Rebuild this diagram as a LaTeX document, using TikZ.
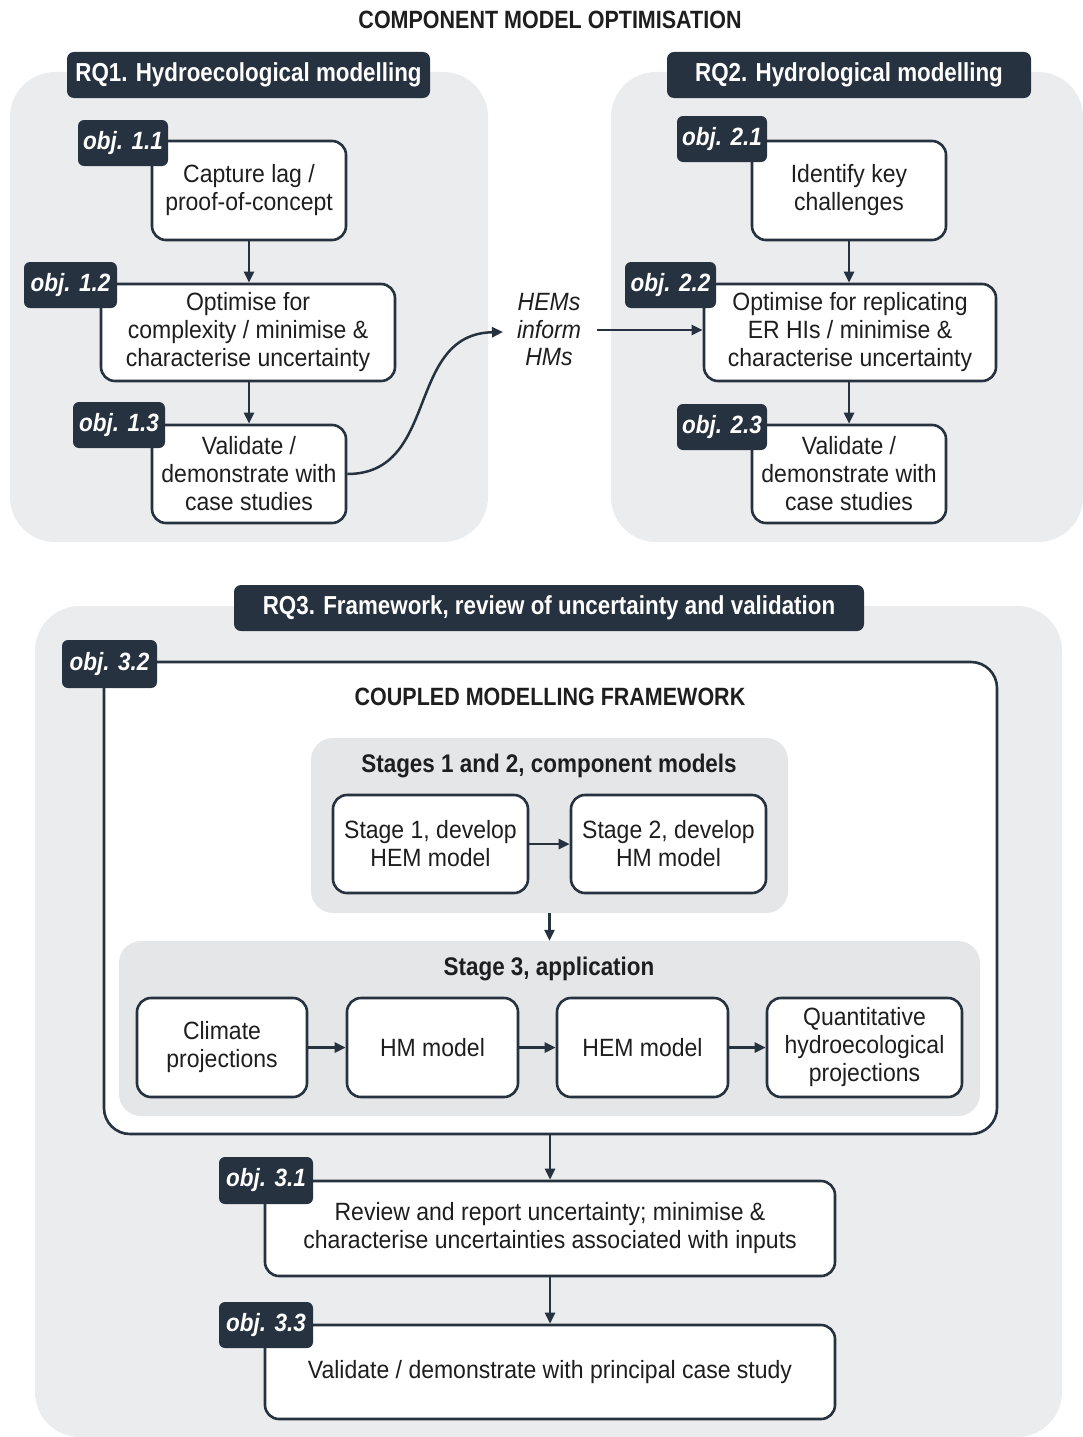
\documentclass[tikz,border=0pt]{standalone}
\usepackage{fontspec}
\setmainfont{Liberation Sans}
\newfontfamily\condfont[FakeStretch=0.86]{Liberation Sans}
\newfontfamily\labfont[FakeStretch=0.9]{Liberation Sans}
\newfontfamily\stagefont[FakeStretch=0.88]{Liberation Sans}
\newfontfamily\bodyfont[FakeStretch=0.92]{Liberation Sans}
\usetikzlibrary{arrows.meta}
\definecolor{navy}{HTML}{26323F}
\definecolor{panelgrey}{HTML}{EBECEE}
\definecolor{stagegrey}{HTML}{E5E6E8}
\definecolor{inktext}{HTML}{1E1E1E}
\tikzset{
  box/.style={draw=navy, line width=2.6pt, fill=white, rounded corners=14pt, align=center,
    text=inktext, font=\bodyfont\fontsize{25}{28}\selectfont, inner sep=0pt},
  objlab/.style={fill=navy, text=white, rounded corners=6pt, inner sep=0pt,
    font=\labfont\bfseries\itshape\fontsize{25}{28}\selectfont},
  header/.style={fill=navy, text=white, rounded corners=7pt, inner sep=0pt,
    font=\condfont\bfseries\fontsize{26}{28}\selectfont},
  grouptitle/.style={text=inktext, font=\condfont\bfseries\fontsize{25}{28}\selectfont, inner sep=0pt},
  stagetitle/.style={text=inktext, font=\stagefont\bfseries\fontsize{25.5}{28}\selectfont, inner sep=0pt},
  panel/.style={fill=panelgrey, rounded corners=45pt},
  stagegroup/.style={fill=stagegrey, rounded corners=22pt, inner sep=0pt},
  arr/.style={-{Triangle[length=11pt,width=10pt]}, line width=2.5pt, draw=navy}
}
\begin{document}
\begin{tikzpicture}[x=1pt,y=-1pt]
\useasboundingbox (0,0) rectangle (1083,1437);
\fill[white] (0,0) rectangle (1083,1437);

% title
\node[grouptitle] (title) at (550,20) {COMPONENT MODEL OPTIMISATION};

% panels
\fill[panel] (10,72) rectangle (488,542);
\fill[panel] (611,72) rectangle (1083,542);
\fill[panel] (35,606) rectangle (1062,1437);

% headers
\node[header, minimum width=363pt, minimum height=46pt] (rq1) at (248.5,75) {RQ1. Hydroecological modelling};
\node[header, minimum width=364pt, minimum height=46pt] (rq2) at (849,75) {RQ2. Hydrological modelling};
\node[header, minimum width=630pt, minimum height=46pt] (rq3) at (549,608) {RQ3. Framework, review of uncertainty and validation};

% RQ1 boxes
\node[box, minimum width=194pt, minimum height=99pt] (b11) at (249,190.5) {Capture lag /\\proof-of-concept};
\node[box, minimum width=294pt, minimum height=97pt] (b12) at (248,332.5) {Optimise for\\complexity / minimise \&\\characterise uncertainty};
\node[box, minimum width=194pt, minimum height=98pt] (b13) at (249,474) {Validate /\\demonstrate with\\case studies};

% RQ2 boxes
\node[box, minimum width=194pt, minimum height=99pt] (b21) at (849,190.5) {Identify key\\challenges};
\node[box, minimum width=292pt, minimum height=97pt] (b22) at (850,332.5) {Optimise for replicating\\ER HIs / minimise \&\\characterise uncertainty};
\node[box, minimum width=194pt, minimum height=98pt] (b23) at (849,474) {Validate /\\demonstrate with\\case studies};

% arrows RQ1/RQ2
\draw[arr] (b11.south) -- (b11.south |- b12.north);
\draw[arr] (b12.south -| b11.south) -- (b13.north -| b11.south);
\draw[arr] (b21.south) -- (b21.south |- b22.north);
\draw[arr] (b22.south -| b21.south) -- (b23.north -| b21.south);

% labels RQ1/RQ2
\node[objlab, minimum width=90pt, minimum height=46pt] (o11) at (123,143) {obj. 1.1};
\node[objlab, minimum width=93pt, minimum height=46pt] (o12) at (70.5,285) {obj. 1.2};
\node[objlab, minimum width=92pt, minimum height=46pt] (o13) at (119,425) {obj. 1.3};
\node[objlab, minimum width=90pt, minimum height=46pt] (o21) at (722,139) {obj. 2.1};
\node[objlab, minimum width=91pt, minimum height=46pt] (o22) at (670.5,285) {obj. 2.2};
\node[objlab, minimum width=90pt, minimum height=46pt] (o23) at (722,427) {obj. 2.3};

% HEMs inform HMs
\node[align=center, text=inktext, font=\bodyfont\itshape\fontsize{25}{27.5}\selectfont, inner sep=2pt] (hem) at (549,330) {HEMs\\inform\\HMs};
\coordinate (hemin) at (503,332);
\draw[arr] (b13.east) .. controls (440,474) and (405,334) .. (hemin);
\draw[arr] (597,330) -- (b22.west |- 0,330);

% framework
\node[box, rounded corners=26pt, minimum width=893pt, minimum height=472pt] (fw) at (550.5,898) {};
\node[grouptitle] (fwt) at (550,697) {COUPLED MODELLING FRAMEWORK};

\node[stagegroup, minimum width=477pt, minimum height=175pt] (g12) at (549.5,825.5) {};
\node[stagetitle] (g12t) at (549,766) {Stages 1 and 2, component models};
\node[box, minimum width=195pt, minimum height=98pt] (s1) at (430.5,844) {Stage 1, develop\\HEM model};
\node[box, minimum width=195pt, minimum height=98pt] (s2) at (668.5,844) {Stage 2, develop\\HM model};
\draw[arr] (s1.east) -- (s2.west);

\node[stagegroup, minimum width=861pt, minimum height=175pt] (g3) at (549.5,1028.5) {};
\node[stagetitle] (g3t) at (549,969) {Stage 3, application};
\draw[arr] (g12.south) -- (g3.north);

\node[box, minimum width=170pt, minimum height=99pt] (c1) at (222,1047.5) {Climate\\projections};
\node[box, minimum width=171pt, minimum height=99pt] (c2) at (432.5,1047.5) {HM model};
\node[box, minimum width=171pt, minimum height=99pt] (c3) at (642.5,1047.5) {HEM model};
\node[box, minimum width=195pt, minimum height=99pt] (c4) at (864.5,1047.5) {Quantitative\\hydroecological\\projections};
\draw[arr] (c1.east) -- (c2.west);
\draw[arr] (c2.east) -- (c3.west);
\draw[arr] (c3.east) -- (c4.west);

% objectives 3.1, 3.3
\node[box, minimum width=570pt, minimum height=95pt] (b31) at (550,1228.5) {Review and report uncertainty; minimise \&\\characterise uncertainties associated with inputs};
\node[box, minimum width=570pt, minimum height=94pt] (b33) at (550,1372) {Validate / demonstrate with principal case study};
\draw[arr] (fw.south -| b31.north) -- (b31.north);
\draw[arr] (b31.south) -- (b33.north);

\node[objlab, minimum width=95pt, minimum height=48pt] (o32) at (109.5,664) {obj. 3.2};
\node[objlab, minimum width=94pt, minimum height=47pt] (o31) at (266,1180.5) {obj. 3.1};
\node[objlab, minimum width=94pt, minimum height=46pt] (o33) at (266,1325) {obj. 3.3};
\end{tikzpicture}
\end{document}
